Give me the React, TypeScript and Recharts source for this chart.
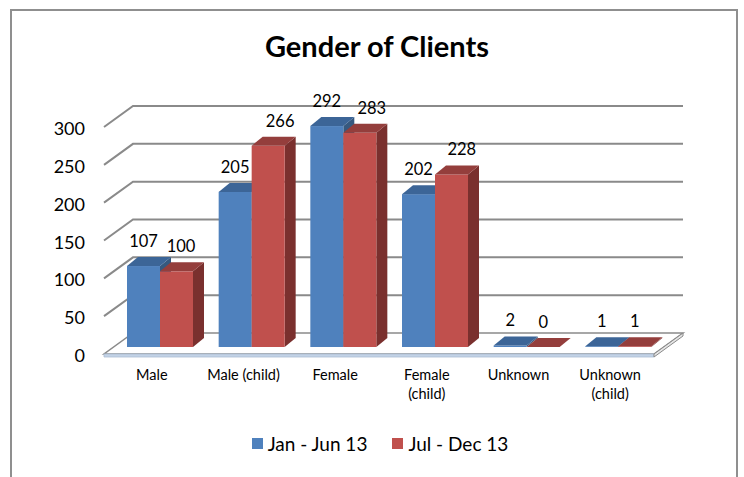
import React from 'react';
import { BarChart, Bar, XAxis, YAxis, CartesianGrid, Legend, LabelList } from 'recharts';

const categories = ['Male', 'Male (child)', 'Female', 'Female (child)', 'Unknown', 'Unknown (child)'];
const tickLabelLines = [['Male'], ['Male (child)'], ['Female'], ['Female', '(child)'], ['Unknown'], ['Unknown', '(child)']];
const janJun = [107, 205, 292, 202, 2, 1];
const julDec = [100, 266, 283, 228, 0, 1];
const yTicks = [0, 50, 100, 150, 200, 250, 300];
const seriesNames = ['Jan - Jun 13', 'Jul - Dec 13'];

const data = categories.map((c, i) => ({ name: c, a: janJun[i], b: julDec[i] }));

const W = 744;
const H = 477;
const MARGIN = { top: 120, right: 80, left: 54, bottom: 90 };
const Y_AXIS_W = 60;
const X_AXIS_H = 40;
const PLOT_BOTTOM = H - MARGIN.bottom - X_AXIS_H;

const FONT = 'Lato, "Open Sans", sans-serif';
const DEPTH = { dx: 11, dy: -9 };
const FRONT = { dx: -10, dy: 7 };
const BACK = { dx: 19, dy: -14 };
const GRID = '#8A8A8A';

const COLORS = {
  a: { front: '#4F81BD', top: '#3C6597', side: '#36597F' },
  b: { front: '#C0504D', top: '#943E3C', side: '#7A302E' },
};

const makeShape = (c: { front: string; top: string; side: string }) => (props: any) => {
  const { x, y, width, height } = props;
  const bottom = y + height;
  const { dx, dy } = DEPTH;
  return (
    <g>
      <polygon
        points={`${x + width},${bottom} ${x + width + dx},${bottom + dy} ${x + width + dx},${y + dy} ${x + width},${y}`}
        fill={c.side}
      />
      <rect x={x} y={y} width={width} height={Math.max(0, height)} fill={c.front} />
      <polygon
        points={`${x},${y} ${x + dx},${y + dy} ${x + width + dx},${y + dy} ${x + width},${y}`}
        fill={c.top}
      />
    </g>
  );
};

const gridLine = (props: any) => {
  const { x1, y1, x2 } = props;
  const y = y1;
  if (Math.abs(y - PLOT_BOTTOM) < 1) {
    const fl = `${x1 + FRONT.dx},${y + FRONT.dy}`;
    const fr = `${x2 + FRONT.dx},${y + FRONT.dy}`;
    const br = `${x2 + BACK.dx},${y + BACK.dy}`;
    const bl = `${x1 + BACK.dx},${y + BACK.dy}`;
    const t = 3;
    return (
      <g key={`g-${y}`}>
        <polygon points={`${fl} ${fr} ${br} ${bl}`} fill="#ffffff" stroke={GRID} strokeWidth={1.5} />
        <polygon
          points={`${x1 + FRONT.dx},${y + FRONT.dy} ${x2 + FRONT.dx},${y + FRONT.dy} ${x2 + FRONT.dx},${y + FRONT.dy + t} ${x1 + FRONT.dx},${y + FRONT.dy + t}`}
          fill="#C3D3E6"
          stroke="#A9BCD3"
          strokeWidth={0.8}
        />
        <polygon
          points={`${x2 + FRONT.dx},${y + FRONT.dy} ${x2 + BACK.dx},${y + BACK.dy} ${x2 + BACK.dx},${y + BACK.dy + t} ${x2 + FRONT.dx},${y + FRONT.dy + t}`}
          fill="#E6E6E6"
          stroke={GRID}
          strokeWidth={1}
        />
      </g>
    );
  }
  return (
    <path
      key={`g-${y}`}
      d={`M${x1 + FRONT.dx},${y + FRONT.dy} L${x1 + BACK.dx},${y + BACK.dy} L${x2 + BACK.dx},${y + BACK.dy}`}
      fill="none"
      stroke={GRID}
      strokeWidth={2}
    />
  );
};

const YTick = (props: any) => {
  const { x, y, payload } = props;
  return (
    <text x={x - 29} y={y + FRONT.dy + 1} textAnchor="end" dominantBaseline="central" fontSize={18} fontFamily={FONT} fill="#000">
      {payload.value}
    </text>
  );
};

const XTick = (props: any) => {
  const { x, y, index } = props;
  const lines = tickLabelLines[index] || [];
  return (
    <g>
      {lines.map((l, i) => (
        <text key={i} x={x - 8} y={y + 27 + i * 19} textAnchor="middle" dominantBaseline="central" fontSize={14.5} fontFamily={FONT} fill="#000">
          {l}
        </text>
      ))}
    </g>
  );
};

const makeLabel = (shift: boolean) => (props: any) => {
  const { x, y, width, height, value } = props;
  const dx = shift ? Math.min(12, Math.abs(height) * 0.06) : 0;
  return (
    <text x={x + width / 2 + dx} y={y - 25} textAnchor="middle" dominantBaseline="central" fontSize={16.5} fontFamily={FONT} fill="#000">
      {value}
    </text>
  );
};

const LegendContent = () => (
  <div style={{ display: 'flex', justifyContent: 'center', alignItems: 'center', fontFamily: FONT, fontSize: 19, color: '#000' }}>
    {seriesNames.map((n, i) => (
      <div key={n} style={{ display: 'flex', alignItems: 'center', marginRight: i === 0 ? 25 : 0 }}>
        <span style={{ display: 'inline-block', width: 11, height: 11, background: i === 0 ? COLORS.a.front : COLORS.b.front, marginRight: 5 }} />
        <span>{n}</span>
      </div>
    ))}
  </div>
);

export default function App() {
  return (
    <div style={{ position: 'absolute', left: 0, top: 0, width: W, height: H, background: '#fff', overflow: 'hidden' }}>
      <div style={{ position: 'absolute', left: 10, top: 9, width: 728, height: 500, border: '2px solid #8F8F8F', boxSizing: 'border-box' }} />
      <div style={{ position: 'absolute', left: 0, top: 28, width: 754, textAlign: 'center', fontFamily: FONT, fontWeight: 700, fontSize: 29, color: '#000' }}>
        Gender of Clients
      </div>
      <div style={{ position: 'absolute', left: 0, top: 0 }}>
        <BarChart width={W} height={H} data={data} margin={MARGIN} barGap={0} barSize={33}>
          <CartesianGrid vertical={false} horizontal={gridLine} />
          <XAxis dataKey="name" height={X_AXIS_H} axisLine={false} tickLine={false} tickSize={0} tickMargin={0} interval={0} tick={<XTick />} />
          <YAxis width={Y_AXIS_W} domain={[0, 300]} ticks={yTicks} axisLine={false} tickLine={false} tickSize={0} tickMargin={0} tick={<YTick />} />
          <Legend verticalAlign="middle" align="center" layout="horizontal" content={<LegendContent />} wrapperStyle={{ top: 432, left: 0, width: W + 16 }} />
          <Bar dataKey="a" name={seriesNames[0]} isAnimationActive={false} shape={makeShape(COLORS.a)}>
            <LabelList dataKey="a" content={makeLabel(false)} />
          </Bar>
          <Bar dataKey="b" name={seriesNames[1]} isAnimationActive={false} shape={makeShape(COLORS.b)}>
            <LabelList dataKey="b" content={makeLabel(true)} />
          </Bar>
        </BarChart>
      </div>
    </div>
  );
}
